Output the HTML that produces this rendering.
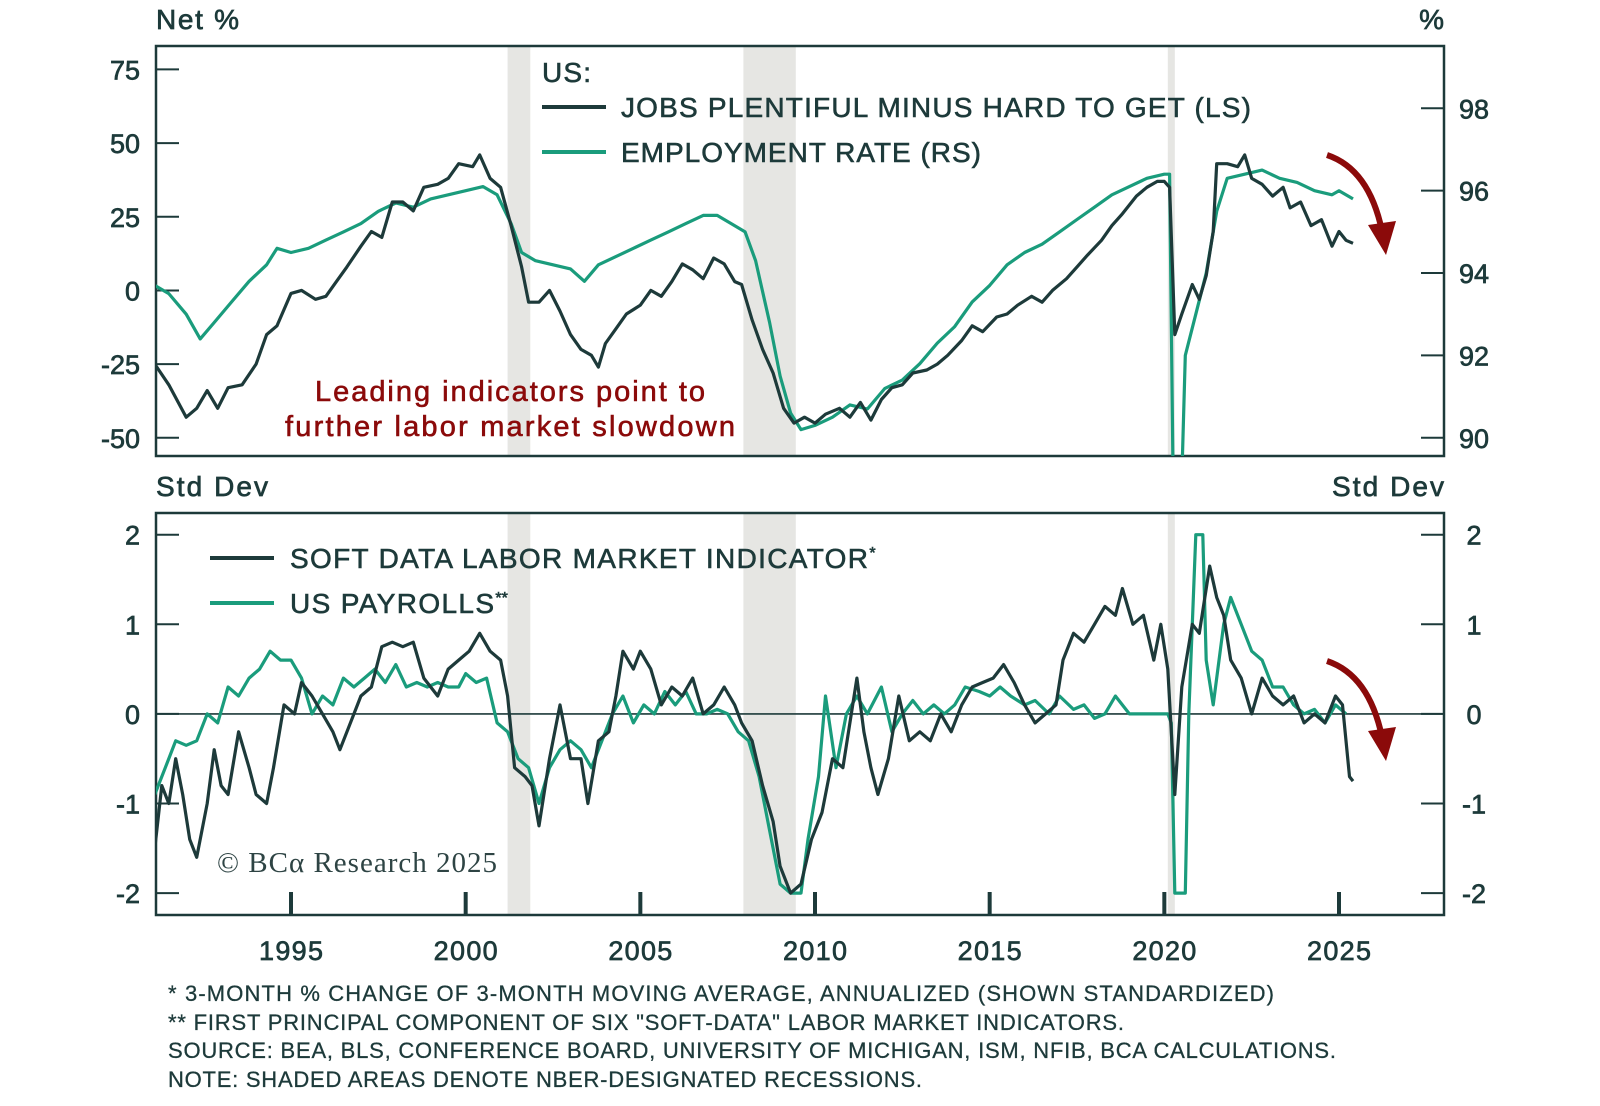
<!DOCTYPE html>
<html><head><meta charset="utf-8"><style>
html,body{margin:0;padding:0;background:#fff}
svg{display:block;font-family:"Liberation Sans",sans-serif}
</style></head><body>
<svg id="chart" width="1600" height="1106" viewBox="0 0 1600 1106" xmlns="http://www.w3.org/2000/svg">
<defs>
<clipPath id="clipTop"><rect x="156" y="46" width="1288" height="410"/></clipPath>
<clipPath id="clipBot"><rect x="156" y="513" width="1288" height="402"/></clipPath>
</defs>
<g id="layer"></g>
</svg>
<script>
// ---- data ----
const recessions = [[2001.2, 2001.85], [2007.95, 2009.45], [2020.1, 2020.3]];
const xTickYears = [1995, 2000, 2005, 2010, 2015, 2020, 2025];
const leftTopTicks = [75, 50, 25, 0, -25, -50];
const rightTopTicks = [98, 96, 94, 92, 90];
const botTicks = [2, 1, 0, -1, -2];

const jobsYears = [1991.1,1991.5,1992.0,1992.3,1992.6,1992.9,1993.2,1993.6,1994.0,1994.3,1994.6,1995.0,1995.3,1995.7,1996.0,1996.3,1996.6,1997.0,1997.3,1997.6,1997.9,1998.2,1998.5,1998.8,1999.2,1999.5,1999.8,2000.2,2000.4,2000.7,2001.0,2001.3,2001.6,2001.8,2002.1,2002.4,2002.7,2003.0,2003.3,2003.6,2003.8,2004.0,2004.3,2004.6,2005.0,2005.3,2005.6,2005.9,2006.2,2006.5,2006.8,2007.1,2007.4,2007.7,2007.9,2008.2,2008.5,2008.8,2009.1,2009.4,2009.7,2010.0,2010.3,2010.7,2011.0,2011.3,2011.6,2011.9,2012.2,2012.5,2012.8,2013.2,2013.5,2013.8,2014.2,2014.5,2014.8,2015.2,2015.5,2015.8,2016.2,2016.5,2016.8,2017.2,2017.5,2017.8,2018.2,2018.5,2018.8,2019.2,2019.5,2019.8,2020.0,2020.15,2020.3,2020.5,2020.8,2021.0,2021.2,2021.4,2021.5,2021.8,2022.1,2022.3,2022.5,2022.8,2023.1,2023.4,2023.6,2023.9,2024.2,2024.5,2024.8,2025.0,2025.2,2025.4];
const jobsValues = [-25,-32,-43,-40,-34,-40,-33,-32,-25,-15,-12,-1,0,-3,-2,3,8,15,20,18,30,30,27,35,36,38,43,42,46,38,35,22,8,-4,-4,0,-7,-15,-20,-22,-26,-18,-13,-8,-5,0,-2,3,9,7,4,11,9,3,2,-10,-20,-28,-40,-45,-43,-45,-42,-40,-43,-38,-44,-37,-33,-32,-28,-27,-25,-22,-17,-12,-14,-9,-8,-5,-2,-4,0,4,8,12,17,22,26,32,35,37,37,35,-15,-8,2,-3,5,20,43,43,42,46,38,36,32,35,28,30,22,24,15,20,17,16];

const empYears = [1991.1,1991.5,1992.0,1992.4,1992.8,1993.3,1993.8,1994.3,1994.6,1995.0,1995.5,1996.0,1996.5,1997.0,1997.5,1998.0,1998.5,1999.0,1999.5,2000.0,2000.5,2000.9,2001.3,2001.6,2002.0,2002.5,2003.0,2003.4,2003.8,2004.3,2004.8,2005.3,2005.8,2006.3,2006.8,2007.2,2007.6,2008.0,2008.3,2008.7,2009.0,2009.3,2009.6,2010.0,2010.5,2011.0,2011.5,2012.0,2012.5,2013.0,2013.5,2014.0,2014.5,2015.0,2015.5,2016.0,2016.5,2017.0,2017.5,2018.0,2018.5,2019.0,2019.5,2020.0,2020.15,2020.25,2020.5,2020.6,2020.9,2021.2,2021.5,2021.8,2022.3,2022.8,2023.3,2023.8,2024.3,2024.8,2025.0,2025.4];
const empValues = [93.7,93.5,93.0,92.4,92.8,93.3,93.8,94.2,94.6,94.5,94.6,94.8,95.0,95.2,95.5,95.7,95.6,95.8,95.9,96.0,96.1,95.9,95.2,94.5,94.3,94.2,94.1,93.8,94.2,94.4,94.6,94.8,95.0,95.2,95.4,95.4,95.2,95.0,94.3,92.8,91.5,90.6,90.2,90.3,90.5,90.8,90.7,91.2,91.4,91.8,92.3,92.7,93.3,93.7,94.2,94.5,94.7,95.0,95.3,95.6,95.9,96.1,96.3,96.4,96.4,89.0,89.0,92.0,93.0,94.0,95.5,96.3,96.4,96.5,96.3,96.2,96.0,95.9,96.0,95.8];

const softYears = [1991.1,1991.3,1991.5,1991.7,1991.9,1992.1,1992.3,1992.6,1992.8,1993.0,1993.2,1993.5,1993.8,1994.0,1994.3,1994.5,1994.8,1995.1,1995.3,1995.6,1995.9,1996.2,1996.4,1996.7,1997.0,1997.3,1997.6,1997.9,1998.2,1998.5,1998.8,1999.2,1999.5,1999.8,2000.1,2000.4,2000.7,2001.0,2001.2,2001.4,2001.7,2001.9,2002.1,2002.4,2002.7,2003.0,2003.3,2003.5,2003.8,2004.1,2004.3,2004.5,2004.8,2005.0,2005.3,2005.6,2005.9,2006.2,2006.5,2006.8,2007.1,2007.4,2007.7,2007.9,2008.2,2008.5,2008.8,2009.0,2009.3,2009.6,2009.9,2010.2,2010.5,2010.8,2011.0,2011.2,2011.4,2011.6,2011.8,2012.1,2012.4,2012.7,2013.0,2013.3,2013.6,2013.9,2014.2,2014.5,2014.8,2015.1,2015.4,2015.7,2016.0,2016.3,2016.6,2016.9,2017.1,2017.4,2017.7,2018.0,2018.3,2018.6,2018.8,2019.1,2019.4,2019.7,2019.9,2020.1,2020.3,2020.5,2020.8,2021.0,2021.3,2021.5,2021.7,2021.9,2022.2,2022.5,2022.8,2023.1,2023.4,2023.7,2024.0,2024.3,2024.6,2024.9,2025.1,2025.3,2025.4];
const softValues = [-1.5,-0.8,-1.0,-0.5,-0.9,-1.4,-1.6,-1.0,-0.4,-0.8,-0.9,-0.2,-0.6,-0.9,-1.0,-0.6,0.1,0.0,0.35,0.2,0.0,-0.2,-0.4,-0.1,0.2,0.3,0.75,0.8,0.75,0.8,0.4,0.2,0.5,0.6,0.7,0.9,0.7,0.6,0.2,-0.6,-0.7,-0.8,-1.25,-0.5,0.1,-0.5,-0.5,-1.0,-0.3,-0.2,0.2,0.7,0.5,0.7,0.5,0.1,0.3,0.2,0.4,0.0,0.1,0.3,0.1,-0.1,-0.3,-0.8,-1.2,-1.7,-2.0,-1.9,-1.4,-1.1,-0.5,-0.6,-0.1,0.4,-0.2,-0.6,-0.9,-0.5,0.2,-0.3,-0.2,-0.3,0.0,-0.2,0.1,0.3,0.35,0.4,0.55,0.35,0.1,-0.1,0.0,0.1,0.6,0.9,0.8,1.0,1.2,1.1,1.4,1.0,1.1,0.6,1.0,0.5,-0.9,0.3,1.0,0.9,1.65,1.3,1.1,0.6,0.4,0.0,0.4,0.2,0.1,0.2,-0.1,0.0,-0.1,0.2,0.1,-0.7,-0.75];

const payYears = [1991.1,1991.4,1991.7,1992.0,1992.3,1992.6,1992.9,1993.2,1993.5,1993.8,1994.1,1994.4,1994.7,1995.0,1995.3,1995.6,1995.9,1996.2,1996.5,1996.8,1997.1,1997.4,1997.7,1998.0,1998.3,1998.6,1998.9,1999.2,1999.5,1999.8,2000.0,2000.3,2000.6,2000.9,2001.2,2001.5,2001.8,2002.1,2002.4,2002.7,2003.0,2003.3,2003.6,2003.9,2004.2,2004.5,2004.8,2005.1,2005.4,2005.7,2006.0,2006.3,2006.6,2006.9,2007.2,2007.5,2007.8,2008.1,2008.4,2008.7,2009.0,2009.3,2009.6,2009.8,2010.1,2010.3,2010.6,2010.9,2011.2,2011.5,2011.9,2012.2,2012.5,2012.8,2013.1,2013.4,2013.7,2014.0,2014.3,2014.7,2015.0,2015.3,2015.6,2016.0,2016.3,2016.7,2017.0,2017.4,2017.7,2018.0,2018.3,2018.6,2019.0,2019.4,2019.8,2020.1,2020.2,2020.3,2020.6,2020.7,2020.9,2021.1,2021.2,2021.4,2021.7,2021.9,2022.2,2022.5,2022.8,2023.1,2023.4,2023.7,2024.0,2024.3,2024.6,2024.9,2025.2];
const payValues = [-0.9,-0.6,-0.3,-0.35,-0.3,0.0,-0.1,0.3,0.2,0.4,0.5,0.7,0.6,0.6,0.4,0.0,0.2,0.1,0.4,0.3,0.4,0.5,0.35,0.55,0.3,0.35,0.3,0.35,0.3,0.3,0.45,0.35,0.4,-0.1,-0.2,-0.5,-0.6,-1.0,-0.6,-0.4,-0.3,-0.4,-0.6,-0.3,0.0,0.2,-0.1,0.1,0.0,0.25,0.1,0.25,0.0,0.0,0.05,0.0,-0.2,-0.3,-0.7,-1.3,-1.9,-2.0,-2.0,-1.4,-0.7,0.2,-0.6,0.0,0.2,0.0,0.3,-0.2,0.0,0.15,0.0,0.1,0.0,0.1,0.3,0.25,0.2,0.3,0.2,0.1,0.15,0.0,0.2,0.05,0.1,-0.05,0.0,0.2,0.0,0.0,0.0,0.0,-0.1,-2.0,-2.0,0.0,2.0,2.0,0.6,0.1,1.0,1.3,1.0,0.7,0.6,0.3,0.3,0.1,0.0,0.05,-0.1,0.1,0.0];

// ---- axes ----
const X0 = 156, X1 = 1444, Y0 = 1991.135, Y1 = 2028.006;
const x = yr => X0 + (yr - Y0) / (Y1 - Y0) * (X1 - X0);
const yL = v => 437.8 - (v + 50) / 125 * 368.4;   // top left axis
const yR = v => 437.8 - (v - 90) / 8 * 329.5;     // top right axis
const yB = v => 713.9 - v * 89.6;                 // bottom axis

const NS = "http://www.w3.org/2000/svg";
const layer = document.getElementById("layer");
function mk(tag, attrs, parent) {
  const e = document.createElementNS(NS, tag);
  for (const k in attrs) e.setAttribute(k, attrs[k]);
  (parent || layer).appendChild(e);
  return e;
}
function txt(s, attrs, parent) { const t = mk("text", attrs, parent); t.textContent = s; return t; }
const DARK = "#1d3a3a", GREEN = "#1a9c7c";
const TXT = {fill: DARK, stroke: DARK, "stroke-width": 0.7, "font-size": 27};

recessions.forEach(r => {
  [[46, 456], [513, 915]].forEach(b => {
    const el = mk("rect", {x: x(r[0]), y: b[0], width: x(r[1]) - x(r[0]), height: b[1] - b[0], fill: "#e6e6e3"});
    
    
  });
});

let f1 = mk("rect", {x: 156, y: 46, width: 1288, height: 410, fill: "none", stroke: DARK, "stroke-width": 2.5});


let f2 = mk("rect", {x: 156, y: 513, width: 1288, height: 402, fill: "none", stroke: DARK, "stroke-width": 2.5});



leftTopTicks.forEach(v => {
  mk("line", {x1: 156, x2: 179, y1: yL(v), y2: yL(v), stroke: DARK, "stroke-width": 2});
  const t = txt(String(v), Object.assign({x: 140, y: yL(v) + 10, "text-anchor": "end"}, TXT));
  
  
});
rightTopTicks.forEach(v => {
  mk("line", {x1: 1421, x2: 1444, y1: yR(v), y2: yR(v), stroke: DARK, "stroke-width": 2});
  const t = txt(String(v), Object.assign({x: 1459, y: yR(v) + 10}, TXT));
  
  
});
botTicks.forEach(v => {
  mk("line", {x1: 156, x2: 179, y1: yB(v), y2: yB(v), stroke: DARK, "stroke-width": 2});
  mk("line", {x1: 1421, x2: 1444, y1: yB(v), y2: yB(v), stroke: DARK, "stroke-width": 2});
  const t1 = txt(String(v), Object.assign({x: 140, y: yB(v) + 10, "text-anchor": "end"}, TXT));
  
  
  const t2 = txt(String(v), Object.assign({x: 1474, y: yB(v) + 10, "text-anchor": "middle"}, TXT));
  
  
});
mk("line", {x1: 156, x2: 1444, y1: yB(0), y2: yB(0), stroke: DARK, "stroke-width": 1.6});
xTickYears.forEach(yr => {
  mk("line", {x1: x(yr), x2: x(yr), y1: 892, y2: 915, stroke: DARK, "stroke-width": 4});
  const t = txt(String(yr), Object.assign({x: x(yr), y: 960, "text-anchor": "middle", textLength: 64}, TXT));
  
  
});

function series(xs, vs, yf, color, clip, name) {
  const d = xs.map((yr, i) => (i ? "L" : "M") + x(yr).toFixed(1) + "," + yf(vs[i]).toFixed(1)).join("");
  const p = mk("path", {d: d, fill: "none", stroke: color, "stroke-width": 3.2, "stroke-linejoin": "round", "clip-path": "url(#" + clip + ")"});
  
  
}
series(empYears, empValues, yR, GREEN, "clipTop", "employment-rate-line");
series(jobsYears, jobsValues, yL, DARK, "clipTop", "jobs-plentiful-line");
series(payYears, payValues, yB, GREEN, "clipBot", "us-payrolls-line");
series(softYears, softValues, yB, DARK, "clipBot", "soft-data-indicator-line");
</script>

<svg style="position:absolute;left:0;top:0" width="1600" height="1106" viewBox="0 0 1600 1106" xmlns="http://www.w3.org/2000/svg" font-family="Liberation Sans, sans-serif">
  <g fill="#1d3a3a" stroke="#1d3a3a" stroke-width="0.7" font-size="28">
  <text x="156" y="29" textLength="83">Net %</text>
  <text x="1444" y="29" text-anchor="end">%</text>
  <text x="156" y="496" textLength="112">Std Dev</text>
  <text x="1444" y="496" text-anchor="end" textLength="112">Std Dev</text>
  </g>

  <g fill="#1d3a3a" stroke="#1d3a3a" stroke-width="0.6" font-size="28">
    <text x="542" y="82" textLength="49">US:</text>
    <line x1="542" x2="606" y1="107" y2="107" stroke="#1d3a3a" stroke-width="4"/>
    <text x="621" y="117" textLength="630">JOBS PLENTIFUL MINUS HARD TO GET (LS)</text>
    <line x1="542" x2="606" y1="152" y2="152" stroke="#1a9c7c" stroke-width="4"/>
    <text x="621" y="162" textLength="360">EMPLOYMENT RATE (RS)</text>
  </g>
  <g fill="#1d3a3a" stroke="#1d3a3a" stroke-width="0.6" font-size="28">
    <line x1="210" x2="274" y1="558" y2="558" stroke="#1d3a3a" stroke-width="4"/>
    <text x="290" y="568"><tspan textLength="578">SOFT DATA LABOR MARKET INDICATOR</tspan><tspan font-size="16" dy="-10">*</tspan></text>
    <line x1="210" x2="274" y1="603" y2="603" stroke="#1a9c7c" stroke-width="4"/>
    <text x="290" y="613"><tspan textLength="204">US PAYROLLS</tspan><tspan font-size="16" dy="-10">**</tspan></text>
  </g>

  <g fill="#8b0a0a" stroke="#8b0a0a" stroke-width="0.6" font-size="29">
  <text x="510" y="401" text-anchor="middle" textLength="390">Leading indicators point to</text>
  <text x="510" y="436" text-anchor="middle" textLength="450">further labor market slowdown</text>
  </g>

  <g>
    <path d="M1327,155 Q1369,169 1382,231" fill="none" stroke="#8b0a0a" stroke-width="6"/>
    <polygon points="1368,225 1396,221 1386,255" fill="#8b0a0a"/>
  </g>
  <g>
    <path d="M1327,661 Q1369,675 1382,737" fill="none" stroke="#8b0a0a" stroke-width="6"/>
    <polygon points="1368,731 1396,727 1386,761" fill="#8b0a0a"/>
  </g>

  <text x="217" y="872" font-family="Liberation Serif, serif" font-size="29" fill="#2e4444" textLength="280">© BCα Research 2025</text>

  <g font-size="22" fill="#1d3a3a" stroke="#1d3a3a" stroke-width="0.3">
    <text x="168" y="1001" textLength="1106">* 3-MONTH % CHANGE OF 3-MONTH MOVING AVERAGE, ANNUALIZED (SHOWN STANDARDIZED)</text>
    <text x="168" y="1030" textLength="956">** FIRST PRINCIPAL COMPONENT OF SIX "SOFT-DATA" LABOR MARKET INDICATORS.</text>
    <text x="168" y="1058" textLength="1168">SOURCE: BEA, BLS, CONFERENCE BOARD, UNIVERSITY OF MICHIGAN, ISM, NFIB, BCA CALCULATIONS.</text>
    <text x="168" y="1087" textLength="754">NOTE: SHADED AREAS DENOTE NBER-DESIGNATED RECESSIONS.</text>
  </g>
</svg>
</body></html>
